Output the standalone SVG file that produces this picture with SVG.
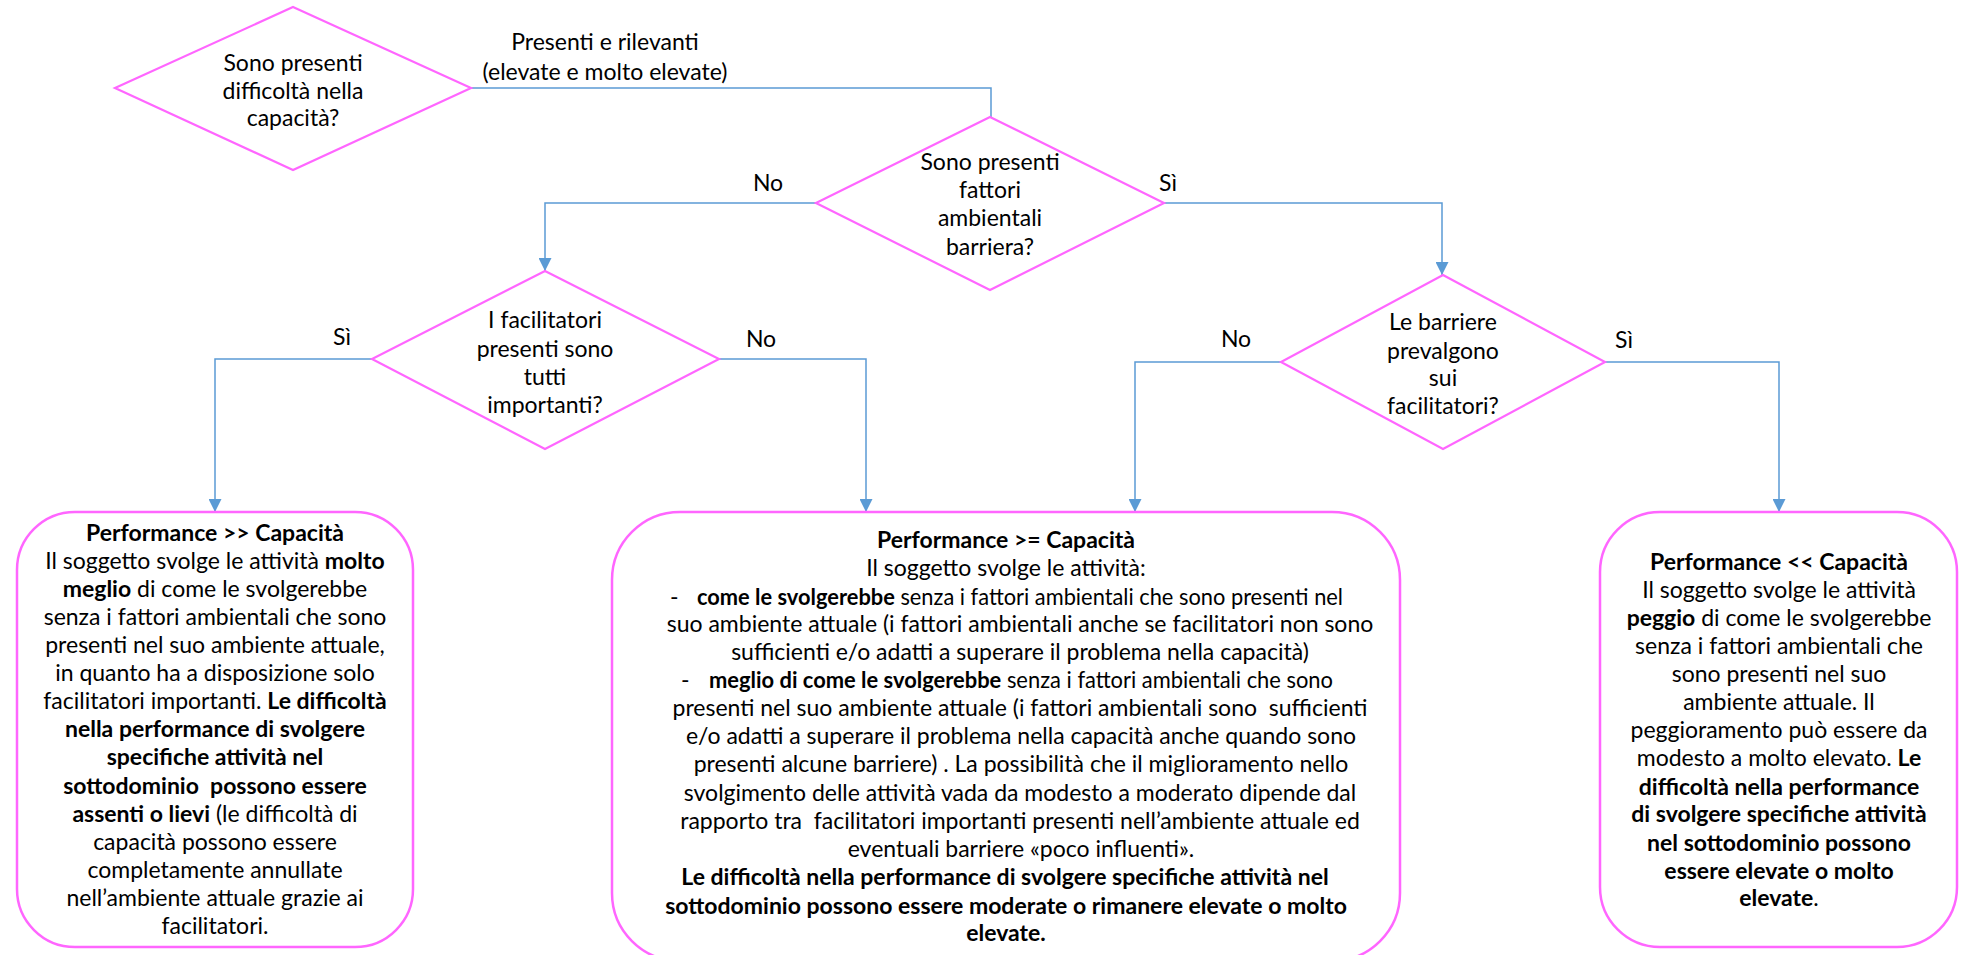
<svg xmlns="http://www.w3.org/2000/svg" width="1968" height="955" viewBox="0 0 1968 955">
<defs>
<style>
.shape{fill:#ffffff;stroke:#FF66FF;stroke-width:2.2}
.box{fill:#ffffff;stroke:#FF66FF;stroke-width:2.5}
.conn{fill:none;stroke:#5B9BD5;stroke-width:1.5}
text{font-family:Lato,"Liberation Sans",sans-serif;font-size:23px;fill:#000000}
.c{text-anchor:middle}
.b{font-weight:bold}
</style>
<marker id="arr" markerUnits="userSpaceOnUse" markerWidth="13" markerHeight="13" viewBox="0 0 12 12" refX="12" refY="6" orient="auto">
<path d="M0,0 L12,6 L0,12 Z" fill="#5B9BD5"/>
</marker>
</defs>
<rect width="1968" height="955" fill="#ffffff"/>

<g id="connectors">
<polyline class="conn" points="471,88 991,88 991,117"/>
<polyline class="conn" points="816,203 545,203 545,271" marker-end="url(#arr)"/>
<polyline class="conn" points="1164,203 1442,203 1442,275" marker-end="url(#arr)"/>
<polyline class="conn" points="372,359 215,359 215,512" marker-end="url(#arr)"/>
<polyline class="conn" points="719,359 866,359 866,512" marker-end="url(#arr)"/>
<polyline class="conn" points="1281,362 1135,362 1135,512" marker-end="url(#arr)"/>
<polyline class="conn" points="1605,362 1779,362 1779,512" marker-end="url(#arr)"/>
<text class="c" x="605" y="50">Presenti e rilevanti</text>
<text class="c" x="605" y="80">(elevate e molto elevate)</text>
<text class="c" x="768" y="191">No</text>
<text class="c" x="1168" y="191">Sì</text>
<text class="c" x="342" y="345">Sì</text>
<text class="c" x="761" y="347">No</text>
<text class="c" x="1236" y="347">No</text>
<text class="c" x="1624" y="348">Sì</text>
</g>

<g id="d1">
<polygon class="shape" points="293,7 471,88 293,170 115,88"/>
<text class="c" x="293" y="71">Sono presenti</text>
<text class="c" x="293" y="99">difficoltà nella</text>
<text class="c" x="293" y="126">capacità?</text>
</g>

<g id="d2">
<polygon class="shape" points="990,117 1164,203 990,290 816,203"/>
<text class="c" x="990" y="170">Sono presenti</text>
<text class="c" x="990" y="198">fattori</text>
<text class="c" x="990" y="226">ambientali</text>
<text class="c" x="990" y="255">barriera?</text>
</g>

<g id="d3">
<polygon class="shape" points="545,271 719,359 545,449 372,359"/>
<text class="c" x="545" y="328">I facilitatori</text>
<text class="c" x="545" y="357">presenti sono</text>
<text class="c" x="545" y="385">tutti</text>
<text class="c" x="545" y="413">importanti?</text>
</g>

<g id="d4">
<polygon class="shape" points="1443,275 1605,362 1443,449 1281,362"/>
<text class="c" x="1443" y="330">Le barriere</text>
<text class="c" x="1443" y="359">prevalgono</text>
<text class="c" x="1443" y="386">sui</text>
<text class="c" x="1443" y="414">facilitatori?</text>
</g>

<g id="box1">
<rect class="box" x="17" y="512" width="396" height="435" rx="58" ry="58"/>
<text class="c" x="215" y="541"><tspan class="b">Performance &gt;&gt; Capacità</tspan></text>
<text class="c" x="215" y="569">Il soggetto svolge le attività <tspan class="b">molto</tspan></text>
<text class="c" x="215" y="597"><tspan class="b">meglio</tspan> di come le svolgerebbe</text>
<text class="c" x="215" y="625">senza i fattori ambientali che sono</text>
<text class="c" x="215" y="653">presenti nel suo ambiente attuale,</text>
<text class="c" x="215" y="681">in quanto ha a disposizione solo</text>
<text class="c" x="215" y="709">facilitatori importanti. <tspan class="b">Le difficoltà</tspan></text>
<text class="c b" x="215" y="737">nella performance di svolgere</text>
<text class="c b" x="215" y="765">specifiche attività nel</text>
<text class="c b" x="215" y="794" xml:space="preserve">sottodominio  possono essere</text>
<text class="c" x="215" y="822"><tspan class="b">assenti o lievi</tspan> (le difficoltà di</text>
<text class="c" x="215" y="850">capacità possono essere</text>
<text class="c" x="215" y="878">completamente annullate</text>
<text class="c" x="215" y="906">nell’ambiente attuale grazie ai</text>
<text class="c" x="215" y="934">facilitatori.</text>
</g>

<g id="box2">
<rect class="box" x="612" y="512" width="788" height="449" rx="68" ry="68"/>
<text class="c b" x="1006" y="548">Performance &gt;= Capacità</text>
<text class="c" x="1006" y="576">Il soggetto svolge le attività:</text>
<text x="670" y="605">-</text>
<text x="697" y="605" textLength="646" lengthAdjust="spacingAndGlyphs"><tspan class="b">come le svolgerebbe</tspan> senza i fattori ambientali che sono presenti nel</text>
<text class="c" x="1020" y="632">suo ambiente attuale (i fattori ambientali anche se facilitatori non sono</text>
<text class="c" x="1020" y="660">sufficienti e/o adatti a superare il problema nella capacità)</text>
<text x="681" y="688">-</text>
<text x="709" y="688" textLength="624" lengthAdjust="spacingAndGlyphs"><tspan class="b">meglio di come le svolgerebbe</tspan> senza i fattori ambientali che sono</text>
<text class="c" x="1020" y="716" xml:space="preserve">presenti nel suo ambiente attuale (i fattori ambientali sono  sufficienti</text>
<text class="c" x="1021" y="744">e/o adatti a superare il problema nella capacità anche quando sono</text>
<text class="c" x="1021" y="772">presenti alcune barriere) . La possibilità che il miglioramento nello</text>
<text class="c" x="1020" y="801">svolgimento delle attività vada da modesto a moderato dipende dal</text>
<text class="c" x="1020" y="829" xml:space="preserve">rapporto tra  facilitatori importanti presenti nell’ambiente attuale ed</text>
<text class="c" x="1021" y="857">eventuali barriere «poco influenti».</text>
<text class="c b" x="1005" y="885">Le difficoltà nella performance di svolgere specifiche attività nel</text>
<text class="c b" x="1006" y="914">sottodominio possono essere moderate o rimanere elevate o molto</text>
<text class="c b" x="1006" y="941">elevate.</text>
</g>

<g id="box3">
<rect class="box" x="1600" y="512" width="357" height="435" rx="60" ry="60"/>
<text class="c b" x="1779" y="570">Performance &lt;&lt; Capacità</text>
<text class="c" x="1779" y="598">Il soggetto svolge le attività</text>
<text class="c" x="1779" y="626"><tspan class="b">peggio</tspan> di come le svolgerebbe</text>
<text class="c" x="1779" y="654">senza i fattori ambientali che</text>
<text class="c" x="1779" y="682">sono presenti nel suo</text>
<text class="c" x="1779" y="710">ambiente attuale. Il</text>
<text class="c" x="1779" y="738">peggioramento può essere da</text>
<text class="c" x="1779" y="766">modesto a molto elevato. <tspan class="b">Le</tspan></text>
<text class="c b" x="1779" y="795">difficoltà nella performance</text>
<text class="c b" x="1779" y="822">di svolgere specifiche attività</text>
<text class="c b" x="1779" y="851">nel sottodominio possono</text>
<text class="c b" x="1779" y="879">essere elevate o molto</text>
<text class="c" x="1779" y="906"><tspan class="b">elevate</tspan>.</text>
</g>
</svg>
